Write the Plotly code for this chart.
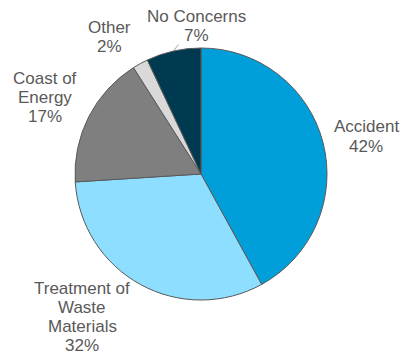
import math
import plotly.graph_objects as go

# Survey shares, clockwise from 12 o'clock
categories = ["Accident", "Treatment of Waste Materials", "Coast of Energy", "Other", "No Concerns"]
values = [42, 32, 17, 2, 7]
colors = ["#009FDA", "#8EDFFF", "#7F7F7F", "#D9D9D9", "#003A51"]

# How each category name wraps in its outside label
label_lines = [["Accident"], ["Treatment of", "Waste", "Materials"], ["Coast of", "Energy"],
               ["Other"], ["No Concerns"]]

# Label block placement in pixels: centre x, centre y of the first line (from top)
label_px = [(366, 127), (82, 288), (45, 78), (109, 27), (196, 16)]
LINE_STEP = 19.2

W, H = 404, 355
cx, cy, r = 201, 174, 126

fig = go.Figure(go.Pie(
    values=values,
    labels=categories,
    sort=False,
    direction="clockwise",
    rotation=0,
    textinfo="none",
    hoverinfo="label+percent",
    marker=dict(colors=colors, line=dict(color="#595959", width=1)),
    domain=dict(x=[(cx - r) / W, (cx + r) / W], y=[(H - cy - r) / H, (H - cy + r) / H]),
    showlegend=False,
))

total = sum(values)
font = dict(family="Liberation Sans, Arial, sans-serif", size=17, color="#595959")
for lines, v, (px, py) in zip(label_lines, values, label_px):
    rows = lines + [f"{round(100 * v / total)}%"]
    for i, row in enumerate(rows):
        fig.add_annotation(
            text=row, x=px / W, y=1 - (py + i * LINE_STEP) / H,
            xref="paper", yref="paper", xanchor="center", yanchor="middle",
            showarrow=False, font=font,
        )

# Leader line from the "No Concerns" label to the middle of its slice edge
cum = sum(values[:4]) + values[4] / 2
theta = 2 * math.pi * cum / total
ex, ey = cx + r * math.sin(theta), cy - r * math.cos(theta)
fig.add_annotation(
    text="", x=ex / W, y=1 - ey / H, xref="paper", yref="paper",
    showarrow=True, arrowhead=0, arrowwidth=1, arrowcolor="#A6A6A6", standoff=0,
    ax=6, ay=-8, axref="pixel", ayref="pixel",
)

fig.update_layout(
    width=W, height=H,
    margin=dict(l=0, r=0, t=0, b=0),
    paper_bgcolor="white", plot_bgcolor="white",
)

fig.write_html("out.html")
